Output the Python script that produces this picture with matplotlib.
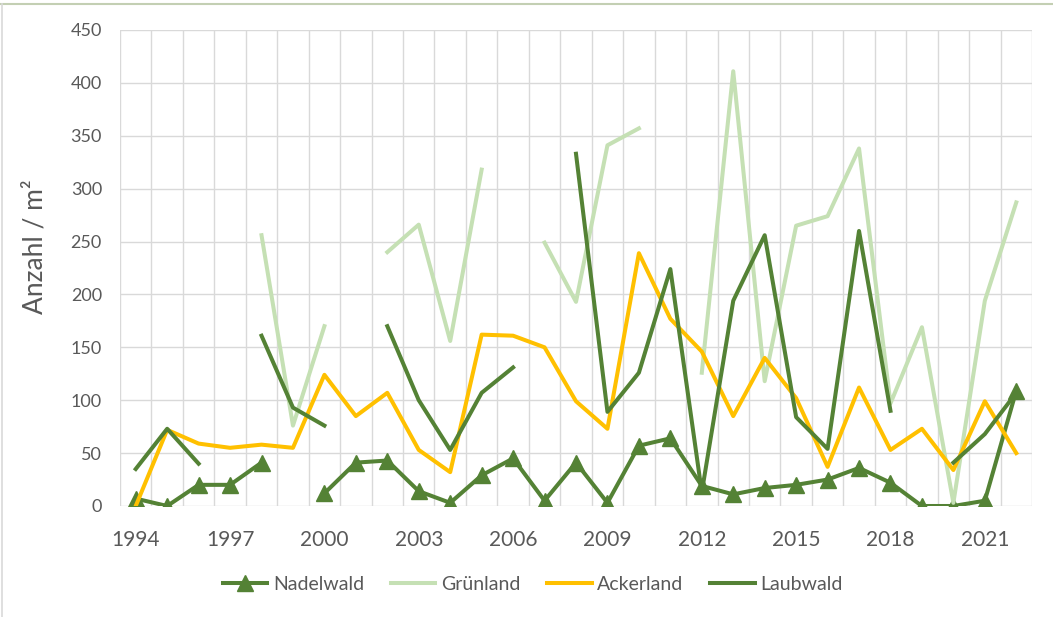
import numpy as np
import matplotlib
matplotlib.use("Agg")
import matplotlib.pyplot as plt
from matplotlib.lines import Line2D

nan = np.nan
years = list(range(1994, 2023))
tick_years = [1994, 1997, 2000, 2003, 2006, 2009, 2012, 2015, 2018, 2021]

nadelwald = [7, 0, 20, 20, 41, nan, 12, 41, 43, 14, 3, 29, 45, 5, 41, 3,
             57, 64, 19, 11, 17, 20, 25, 36, 22, 0, 0, 5, 109]
gruenland = [nan, nan, nan, nan, 256, 76, 170, nan, 240, 266, 156, 318, nan, 249, 193, 341,
             357, nan, 126, 411, 118, 265, 274, 338, 97, 169, 3, 194, 287]
ackerland = [0, 72, 59, 55, 58, 55, 124, 85, 107, 53, 32, 162, 161, 150, 99, 73,
             239, 177, 146, 85, 140, 102, 37, 112, 53, 73, 34, 99, 50]
laubwald = [35, 73, 40, nan, 161, 93, 76, nan, 170, 100, 53, 107, 131, nan, 333, 89,
            126, 224, 13, 194, 256, 84, 54, 260, 90, nan, 41, 68, 107]

plt.rcParams['font.family'] = ['Lato', 'DejaVu Sans']
txt = '#595959'
grid = '#d9d9d9'

fig = plt.figure(figsize=(10.53, 6.17), dpi=100)
ax = fig.add_axes([120/1053, 1-506/617, (1032-120)/1053, (506-30)/617])

x = np.arange(len(years))
lw = 2.9
ax.plot(x, nadelwald, color='#548235', lw=lw, marker='^', ms=11, label='Nadelwald', zorder=3)
ax.plot(x, gruenland, color='#c5e0b4', lw=lw, label='Grünland', zorder=4)
ax.plot(x, ackerland, color='#ffc000', lw=lw, label='Ackerland', zorder=5)
ax.plot(x, laubwald, color='#548235', lw=lw, label='Laubwald', zorder=6)

ax.set_xlim(-0.5, len(years) - 0.5)
ax.set_ylim(0, 450)
ax.set_yticks(range(0, 451, 50))
ax.set_xticks([years.index(y) for y in tick_years])
ax.set_xticklabels([str(y) for y in tick_years])
ax.set_xticks(np.arange(-0.5, len(years), 1.0), minor=True)
ax.grid(True, which='major', axis='y', color=grid, lw=1.0)
ax.grid(True, which='minor', axis='x', color=grid, lw=1.0)
ax.set_axisbelow(True)
for s in ax.spines.values():
    s.set_visible(False)
ax.tick_params(axis='both', which='both', length=0)
ax.tick_params(axis='y', labelsize=13, labelcolor=txt, pad=13)
ax.tick_params(axis='x', labelsize=15, labelcolor=txt, pad=17)
ax.set_ylabel('Anzahl / m²', fontsize=19, color=txt)
ax.yaxis.set_label_coords(-0.079, 0.544)

fig.legend(loc='center', bbox_to_anchor=(0.506, 1-584/617), ncol=4, frameon=False,
           fontsize=14, labelcolor=txt, handlelength=2.3, handletextpad=0.3,
           columnspacing=1.35)

fig.add_artist(Line2D([0, 1], [1-4/617, 1-4/617], color='#c3cfb3', lw=1.5, transform=fig.transFigure))
fig.add_artist(Line2D([2/1053, 2/1053], [0, 1-4/617], color='#d9d9d9', lw=1.2, transform=fig.transFigure))

fig.savefig('out.png', dpi=100)
